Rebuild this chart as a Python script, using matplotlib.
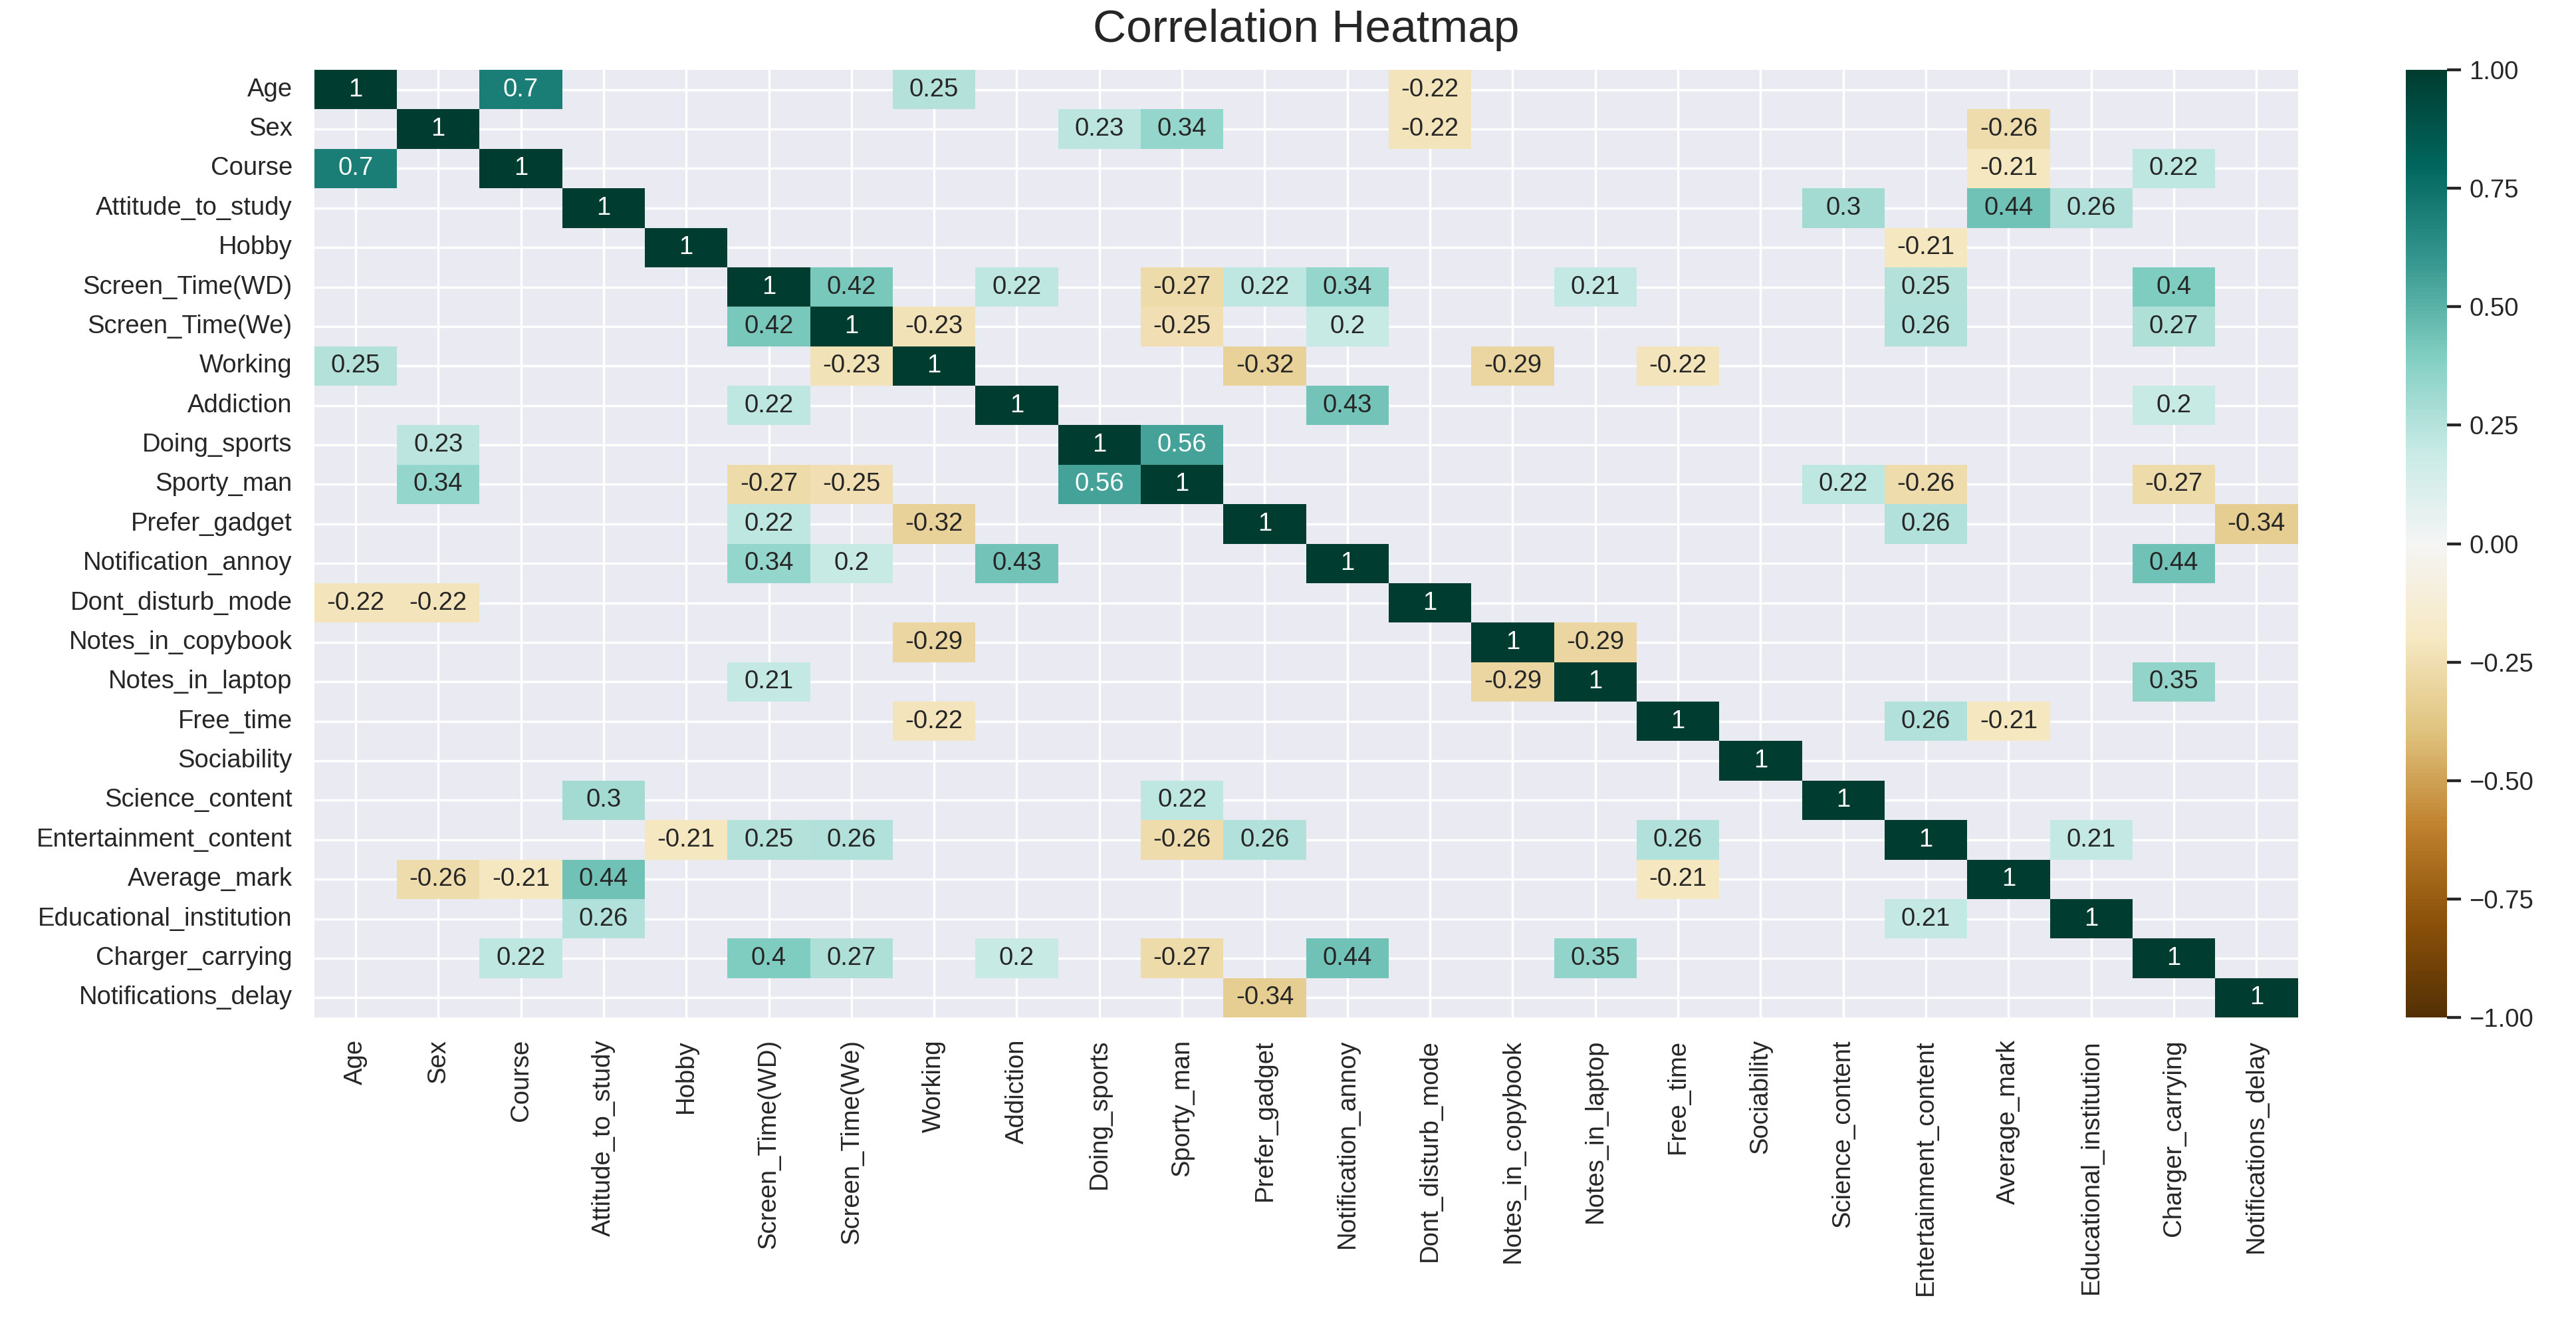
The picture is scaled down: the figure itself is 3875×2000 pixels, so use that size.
import numpy as np
import pandas as pd
import seaborn as sns
import matplotlib
matplotlib.use('Agg')
import matplotlib.pyplot as plt

cols = ['Age', 'Sex', 'Course', 'Attitude_to_study', 'Hobby', 'Screen_Time(WD)',
        'Screen_Time(We)', 'Working', 'Addiction', 'Doing_sports', 'Sporty_man',
        'Prefer_gadget', 'Notification_annoy', 'Dont_disturb_mode', 'Notes_in_copybook',
        'Notes_in_laptop', 'Free_time', 'Sociability', 'Science_content',
        'Entertainment_content', 'Average_mark', 'Educational_institution',
        'Charger_carrying', 'Notifications_delay']

# (row, col, correlation) for the shown cells, |r| >= 0.2
pairs = [
    ('Course', 'Age', 0.7), ('Working', 'Age', 0.25),
    ('Screen_Time(We)', 'Screen_Time(WD)', 0.42), ('Working', 'Screen_Time(We)', -0.23),
    ('Addiction', 'Screen_Time(WD)', 0.22), ('Doing_sports', 'Sex', 0.23),
    ('Sporty_man', 'Sex', 0.34), ('Sporty_man', 'Screen_Time(WD)', -0.27),
    ('Sporty_man', 'Screen_Time(We)', -0.25), ('Sporty_man', 'Doing_sports', 0.56),
    ('Prefer_gadget', 'Screen_Time(WD)', 0.22), ('Prefer_gadget', 'Working', -0.32),
    ('Notification_annoy', 'Screen_Time(WD)', 0.34), ('Notification_annoy', 'Screen_Time(We)', 0.2),
    ('Notification_annoy', 'Addiction', 0.43),
    ('Dont_disturb_mode', 'Age', -0.22), ('Dont_disturb_mode', 'Sex', -0.22),
    ('Notes_in_copybook', 'Working', -0.29),
    ('Notes_in_laptop', 'Screen_Time(WD)', 0.21), ('Notes_in_laptop', 'Notes_in_copybook', -0.29),
    ('Free_time', 'Working', -0.22),
    ('Science_content', 'Attitude_to_study', 0.3), ('Science_content', 'Sporty_man', 0.22),
    ('Entertainment_content', 'Hobby', -0.21), ('Entertainment_content', 'Screen_Time(WD)', 0.25),
    ('Entertainment_content', 'Screen_Time(We)', 0.26), ('Entertainment_content', 'Sporty_man', -0.26),
    ('Entertainment_content', 'Prefer_gadget', 0.26), ('Entertainment_content', 'Free_time', 0.26),
    ('Average_mark', 'Sex', -0.26), ('Average_mark', 'Course', -0.21),
    ('Average_mark', 'Attitude_to_study', 0.44), ('Average_mark', 'Free_time', -0.21),
    ('Educational_institution', 'Attitude_to_study', 0.26),
    ('Educational_institution', 'Entertainment_content', 0.21),
    ('Charger_carrying', 'Course', 0.22), ('Charger_carrying', 'Screen_Time(WD)', 0.4),
    ('Charger_carrying', 'Screen_Time(We)', 0.27), ('Charger_carrying', 'Addiction', 0.2),
    ('Charger_carrying', 'Sporty_man', -0.27), ('Charger_carrying', 'Notification_annoy', 0.44),
    ('Charger_carrying', 'Notes_in_laptop', 0.35),
    ('Notifications_delay', 'Prefer_gadget', -0.34),
]

corr = pd.DataFrame(np.nan, index=cols, columns=cols)
for c in cols:
    corr.loc[c, c] = 1.0
for r, c, v in pairs:
    corr.loc[r, c] = v
    corr.loc[c, r] = v

sns.set_theme(style='darkgrid')
plt.rcParams['font.family'] = ['Liberation Sans', 'DejaVu Sans']
fig = plt.figure(figsize=(15.5, 8))
ax = fig.add_axes([0.122, 0.235, 0.77, 0.7125])
cax = fig.add_axes([0.934, 0.235, 0.016, 0.7125])
sns.heatmap(corr, vmin=-1, vmax=1, cmap='BrBG', annot=True, ax=ax, cbar_ax=cax,
            annot_kws={'fontsize': 11})
ax.tick_params(labelsize=11)
cax.tick_params(labelsize=11)
ax.set_title('Correlation Heatmap', fontsize=20, pad=12)
fig.savefig('out.png', dpi=250)
